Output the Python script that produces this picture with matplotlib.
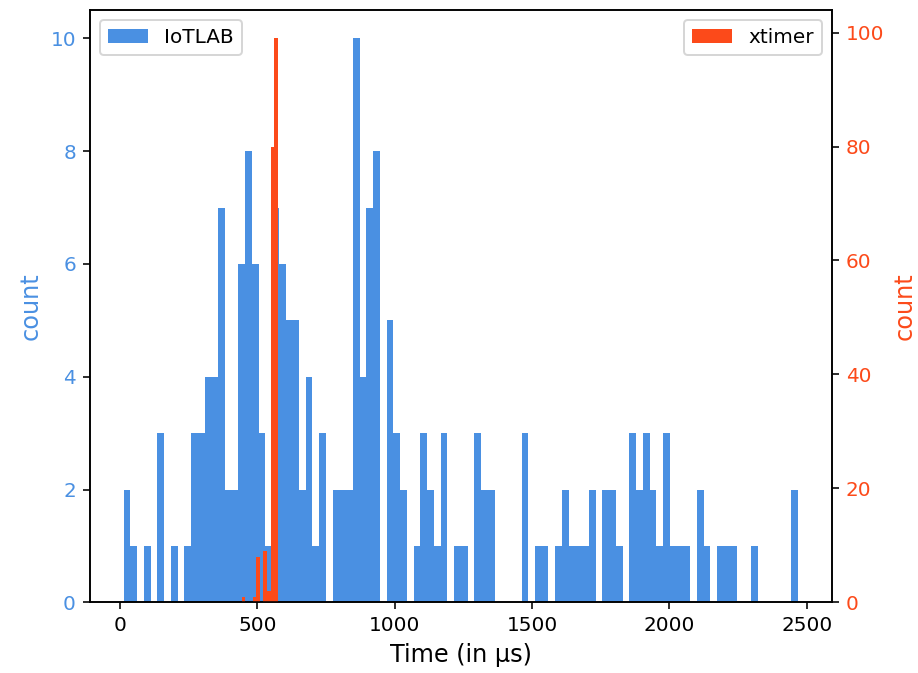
import matplotlib
matplotlib.use("Agg")
import matplotlib.pyplot as plt
import numpy as np

# IoT-LAB timing histogram: 100 bins between the min and max sample
iotlab_range = (13.5, 2468.0)
iotlab_counts = [
    2, 1, 0, 1, 0, 3, 0, 1, 0, 1,
    3, 3, 4, 4, 7, 2, 2, 6, 8, 6,
    3, 1, 7, 6, 5, 5, 2, 4, 1, 3,
    0, 2, 2, 2, 10, 4, 7, 8, 0, 5,
    3, 2, 0, 1, 3, 2, 1, 3, 0, 1,
    1, 0, 3, 2, 2, 0, 0, 0, 0, 3,
    0, 1, 1, 0, 1, 2, 1, 1, 1, 2,
    0, 2, 2, 1, 0, 3, 2, 3, 2, 1,
    3, 1, 1, 1, 0, 2, 1, 0, 1, 1,
    1, 0, 0, 1, 0, 0, 0, 0, 0, 2,
]

# xtimer histogram: default 10 bins
xtimer_range = (443.5, 574.5)
xtimer_counts = [1, 0, 0, 1, 8, 0, 9, 2, 80, 99]

blue = "#4a90e2"
red = "#fc4a1a"

iot_edges = np.linspace(iotlab_range[0], iotlab_range[1], len(iotlab_counts) + 1)
xt_edges = np.linspace(xtimer_range[0], xtimer_range[1], len(xtimer_counts) + 1)

fig, ax1 = plt.subplots(figsize=(918 / 144, 673 / 144), dpi=144)
fig.subplots_adjust(left=0.098, right=0.906, top=0.985, bottom=0.105)

ax1.hist(iot_edges[:-1], bins=iot_edges, weights=iotlab_counts,
         color=blue, label="IoTLAB")
ax1.set_xlabel("Time (in µs)", fontsize=12)
ax1.set_ylabel("count", color=blue, fontsize=12)
ax1.tick_params(axis="y", labelcolor=blue)
ax1.legend(loc="upper left")

ax2 = ax1.twinx()
ax2.hist(xt_edges[:-1], bins=xt_edges, weights=xtimer_counts,
         color=red, label="xtimer")
ax2.set_ylabel("count", color=red, fontsize=12)
ax2.tick_params(axis="y", labelcolor=red)
ax2.legend(loc="upper right")

fig.savefig("out.png", dpi=144)
